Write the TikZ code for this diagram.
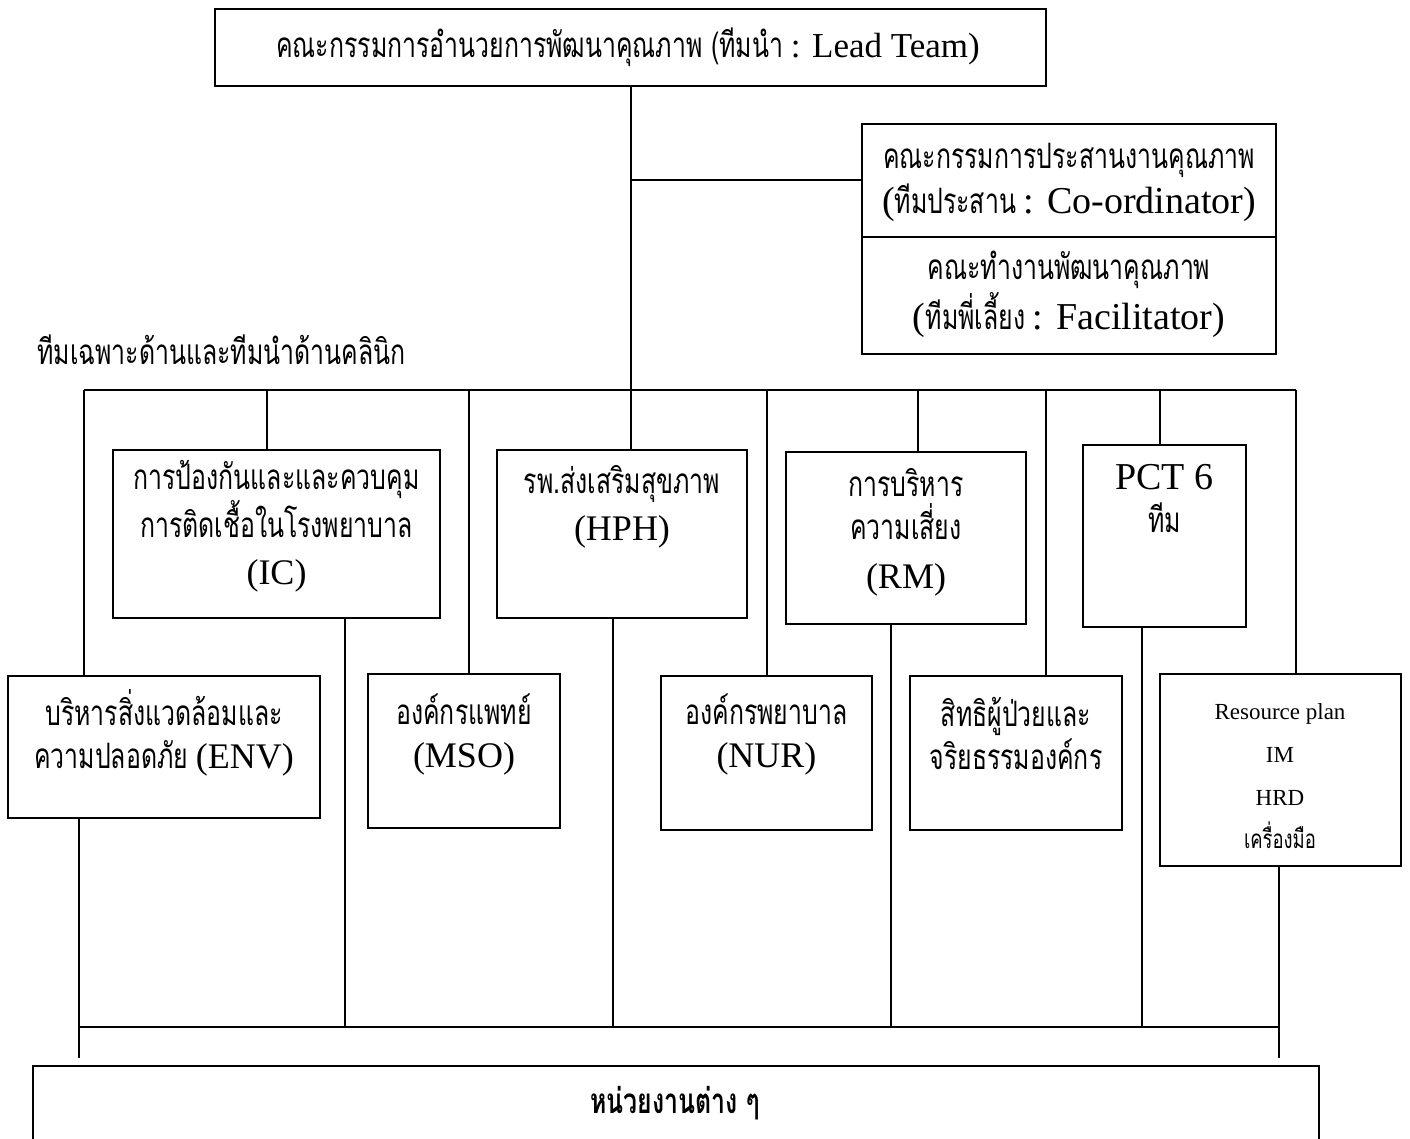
\documentclass[tikz,border=0pt]{standalone}
\usepackage{fontspec}
\setmainfont{Liberation Serif}
\newfontfamily\thaifnt[Script=Thai,FakeStretch=0.71]{Loma}
\newcommand{\tx}[1]{{\thaifnt\fontsize{17.5}{21.5}\selectfont #1}}
\newcommand{\ltx}[1]{{\fontsize{18}{21.5}\selectfont #1}}
\newcommand{\mtx}[1]{{\fontsize{17.5}{21.5}\selectfont #1}}
\newcommand{\ctx}[1]{{\fontsize{19}{21.5}\selectfont #1}}
\usetikzlibrary{fit}
\tikzset{
  box/.style={draw, line width=1pt, inner sep=0pt},
  txt/.style={align=center, inner sep=0pt, font=\fontsize{15.5}{21.5}\selectfont},
  conn/.style={line width=1pt},
}
\begin{document}
\begin{tikzpicture}[x=0.5pt,y=-0.5pt]
\useasboundingbox (0,0) rectangle (1410,1139);
% boxes
\node[box, fit={(215,9)(1046,86)}] (top) {};
\node[box, fit={(862,124)(1276,237)}] (coord) {};
\node[box, fit={(862,237)(1276,354)}] (facil) {};
\node[box, fit={(113,450)(440,618)}] (ic) {};
\node[box, fit={(497,450)(747,618)}] (hph) {};
\node[box, fit={(786,452)(1026,624)}] (rm) {};
\node[box, fit={(1083,445)(1246,627)}] (pct) {};
\node[box, fit={(8,676)(320,818)}] (env) {};
\node[box, fit={(368,674)(560,828)}] (mso) {};
\node[box, fit={(661,676)(872,830)}] (nur) {};
\node[box, fit={(910,676)(1122,830)}] (rights) {};
\node[box, fit={(1160,674)(1401,866)}] (res) {};
\node[box, fit={(33,1066)(1319,1160)}] (units) {};
% texts
\node[txt] (topT) at (628,47) {\tx{คณะกรรมการอำนวยการพัฒนาคุณภาพ (ทีมนำ} \mtx{: Lead Team)}};
\node[txt] (coordT) at (1069,182) {\tx{คณะกรรมการประสานงานคุณภาพ}\\[1pt]\ctx{(}\tx{ทีมประสาน} \ctx{: Co-ordinator)}};
\node[txt] (facilT) at (1069,294) {\tx{คณะทำงานพัฒนาคุณภาพ}\\[1pt]\ctx{(}\tx{ทีมพี่เลี้ยง} \ctx{: Facilitator)}};
\node[txt, anchor=west] (lbl) at (37,350) {\tx{ทีมเฉพาะด้านและทีมนำด้านคลินิก}};
\node[txt] (icT) at (276.5,526) {\tx{การป้องกันและและควบคุม}\\\tx{การติดเชื้อในโรงพยาบาล}\\[2pt]\ltx{(IC)}};
\node[txt] (hphT) at (622,507) {\tx{รพ.ส่งเสริมสุขภาพ}\\[2pt]\ltx{(HPH)}};
\node[txt] (rmT) at (906,532) {\tx{การบริหาร}\\\tx{ความเสี่ยง}\\[3pt]\ltx{(RM)}};
\node[txt] (pctT) at (1164.5,499) {{\fontsize{19}{21.5}\selectfont PCT 6}\\\tx{ทีม}};
\node[txt] (envT) at (164,733) {\tx{บริหารสิ่งแวดล้อมและ}\\\tx{ความปลอดภัย} \ltx{(ENV)}};
\node[txt] (msoT) at (464,734) {\tx{องค์กรแพทย์}\\\ltx{(MSO)}};
\node[txt] (nurT) at (766.5,734) {\tx{องค์กรพยาบาล}\\\ltx{(NUR)}};
\node[txt] (rightsT) at (1016,733) {\tx{สิทธิผู้ป่วยและ}\\\tx{จริยธรรมองค์กร}};
\node[txt, font=\fontsize{11.5}{21.5}\selectfont] (resT) at (1280,776) {Resource plan\\IM\\HRD\\{\thaifnt\fontsize{13}{21.5}\selectfont เครื่องมือ}};
\node[txt] (unitsT) at (675,1103) {{\thaifnt\bfseries\fontsize{17.5}{21.5}\selectfont หน่วยงานต่าง ๆ}};
% bus coordinates
\coordinate (dTop) at (631,390);
\coordinate (busL) at (84,390);
\coordinate (busR) at (1296,390);
\coordinate (dIC) at (267,390);
\coordinate (dMSO) at (469,390);
\coordinate (dNUR) at (767,390);
\coordinate (dRM) at (918,390);
\coordinate (dRI) at (1046,390);
\coordinate (dPCT) at (1160,390);
\coordinate (b2L) at (79,1027);
\coordinate (b2R) at (1279,1027);
\coordinate (uIC) at (345,1027);
\coordinate (uHPH) at (613,1027);
\coordinate (uRM) at (891,1027);
\coordinate (uPCT) at (1142,1027);
\coordinate (eL) at (79,1058);
\coordinate (eR) at (1279,1058);
% connectors
\draw[conn] (top.south -| dTop) -- (hph.north -| dTop);
\draw[conn] (dTop |- coord.west) -- (coord.west);
\draw[conn] (busL) -- (busR);
\draw[conn] (busL) -- (env.north -| busL);
\draw[conn] (busR) -- (res.north -| busR);
\draw[conn] (dIC) -- (ic.north -| dIC);
\draw[conn] (dMSO) -- (mso.north -| dMSO);
\draw[conn] (dNUR) -- (nur.north -| dNUR);
\draw[conn] (dRM) -- (rm.north -| dRM);
\draw[conn] (dRI) -- (rights.north -| dRI);
\draw[conn] (dPCT) -- (pct.north -| dPCT);
\draw[conn] (env.south -| eL) -- (eL);
\draw[conn] (res.south -| eR) -- (eR);
\draw[conn] (b2L) -- (b2R);
\draw[conn] (ic.south -| uIC) -- (uIC);
\draw[conn] (hph.south -| uHPH) -- (uHPH);
\draw[conn] (rm.south -| uRM) -- (uRM);
\draw[conn] (pct.south -| uPCT) -- (uPCT);
\end{tikzpicture}
\end{document}
